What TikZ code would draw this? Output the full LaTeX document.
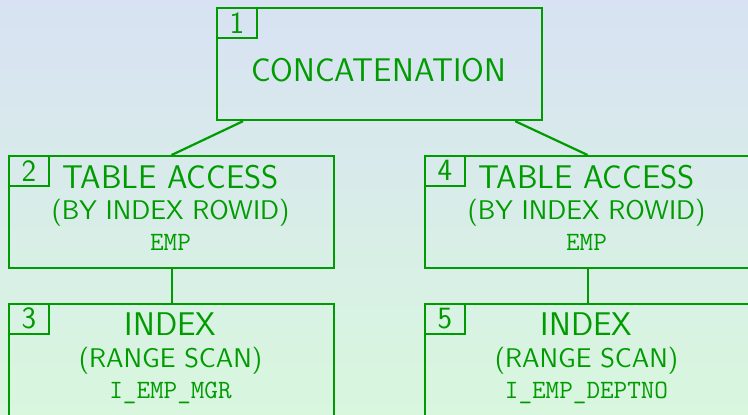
\documentclass[tikz,border=0pt]{standalone}
\usepackage{tikz}
\definecolor{plangreen}{RGB}{0,155,0}
\definecolor{topblue}{RGB}{216,226,243}
\definecolor{botgreen}{RGB}{216,247,222}

\tikzset{
	opbox/.style={draw=plangreen,line width=1.1pt,minimum width=162.5pt,minimum height=56pt,anchor=north west,inner sep=0pt},
	numbox/.style={draw=plangreen,line width=0.8pt,minimum width=20pt,minimum height=15pt,anchor=north west,inner sep=0pt,text=plangreen,font=\sffamily\fontsize{15.5}{18}\selectfont},
	optext/.style={anchor=base,text=plangreen,inner sep=0pt,font=\sffamily\fontsize{16.4}{18}\selectfont},
	subtext/.style={anchor=base,text=plangreen,inner sep=0pt,font=\sffamily\fontsize{13.5}{15}\selectfont},
	objtext/.style={anchor=base,text=plangreen,inner sep=0pt,font=\ttfamily\fontsize{13.2}{15}\selectfont},
	link/.style={draw=plangreen,line width=1.1pt}
}

\begin{document}
\begin{tikzpicture}[x=0.5pt,y=-0.5pt]
	\useasboundingbox (0,0) rectangle (748,414);
	\clip (0,0) rectangle (748,414);
	\shade[top color=topblue,bottom color=botgreen] (0,0) rectangle (748,414);
	% operations
	\node[opbox] (concat) at (216,7) {};
	\node[opbox] (tab1) at (8,155) {};
	\node[opbox] (idx1) at (8,303) {};
	\node[opbox] (tab2) at (424,155) {};
	\node[opbox] (idx2) at (424,303) {};
	\node[numbox] (num1) at (concat.north west) {1};
	\node[numbox] (num2) at (tab1.north west) {2};
	\node[numbox] (num3) at (idx1.north west) {3};
	\node[numbox] (num4) at (tab2.north west) {4};
	\node[numbox] (num5) at (idx2.north west) {5};
	\node[optext] (concatname) at (378.5,81) {CONCATENATION};
	\node[optext] (tab1name) at (170.5,188) {TABLE ACCESS};
	\node[subtext] (tab1opt) at (170.5,219) {(BY INDEX ROWID)};
	\node[objtext] (tab1obj) at (170.5,250) {EMP};
	\node[optext] (idx1name) at (170.5,335) {INDEX};
	\node[subtext] (idx1opt) at (170.5,367) {(RANGE SCAN)};
	\node[objtext] (idx1obj) at (170.5,398) {I\_EMP\_MGR};
	\node[optext] (tab2name) at (586.5,188) {TABLE ACCESS};
	\node[subtext] (tab2opt) at (586.5,219) {(BY INDEX ROWID)};
	\node[objtext] (tab2obj) at (586.5,250) {EMP};
	\node[optext] (idx2name) at (586.5,335) {INDEX};
	\node[subtext] (idx2opt) at (586.5,367) {(RANGE SCAN)};
	\node[objtext] (idx2obj) at (586.5,398) {I\_EMP\_DEPTNO};
	% links
	\draw[link] ([xshift=13.5pt]concat.south west) -- (tab1.north);
	\draw[link] ([xshift=-14pt]concat.south east) -- (tab2.north);
	\draw[link] (tab1.south) -- (idx1.north);
	\draw[link] (tab2.south) -- (idx2.north);
\end{tikzpicture}
\end{document}
